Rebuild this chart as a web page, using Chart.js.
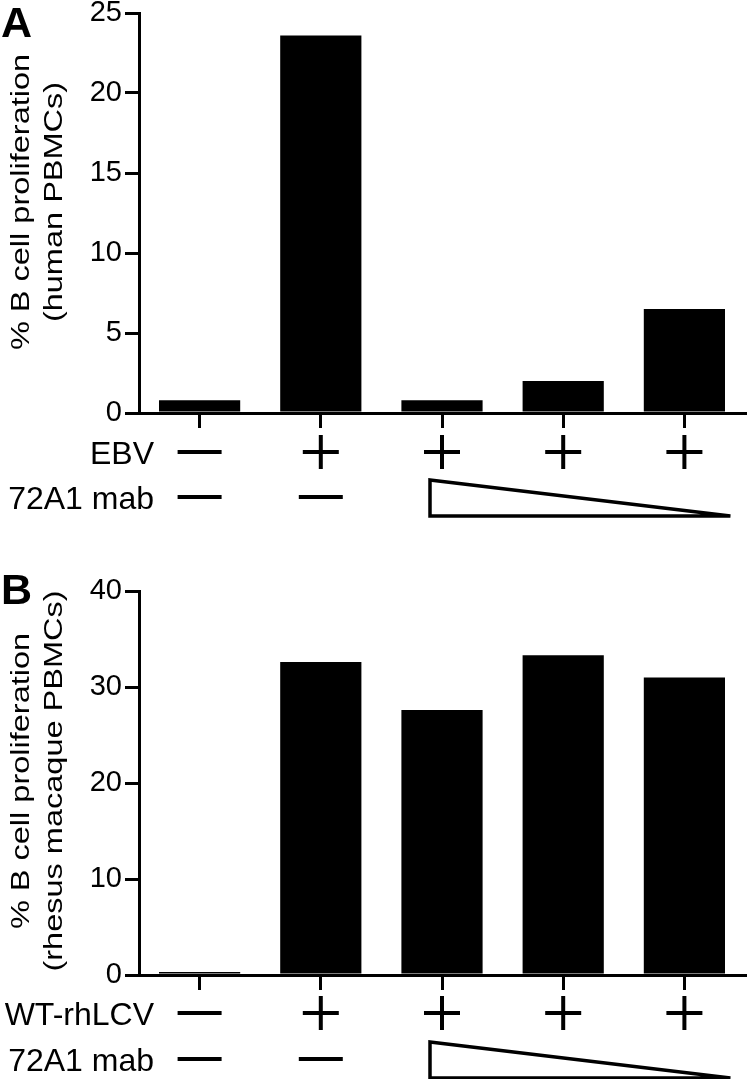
<!DOCTYPE html>
<html>
<head>
<meta charset="utf-8">
<script src="https://cdn.jsdelivr.net/npm/chart.js@4.4.1/dist/chart.umd.min.js"></script>
<style>
  html, body { margin: 0; padding: 0; background: #fff; }
  #wrap { position: relative; width: 750px; height: 1079px; }
  canvas { position: absolute; left: 0; }
  #chartA { top: 0; }
  #chartB { top: 540px; }
</style>
</head>
<body>
<div id="wrap">
  <canvas id="chartA" width="750" height="540"></canvas>
  <canvas id="chartB" width="750" height="539"></canvas>
</div>
<script>
// conditions, left to right
const categories = ['no virus', 'virus', 'virus + mab high', 'virus + mab mid', 'virus + mab low'];

// panel A: human PBMCs + EBV
const humanValues = [0.8, 23.6, 0.8, 2.0, 6.5];
const humanTicks = [0, 5, 10, 15, 20, 25];
// panel B: rhesus macaque PBMCs + WT-rhLCV
const rhesusValues = [0.3, 32.6, 27.6, 33.3, 31.0];
const rhesusTicks = [0, 10, 20, 30, 40];

// rows of +/- under the bars ('dose' = decreasing mab triangle)
const virusMarks = ['-', '+', '+', '+', '+'];
const mabMarks = ['-', '-', 'dose', 'dose', 'dose'];

const FONT = '"Liberation Sans", Arial, Helvetica, sans-serif';
Chart.defaults.font.family = FONT;
Chart.defaults.color = '#000';

function strokeLine(ctx, x0, y0, x1, y1) {
    ctx.beginPath();
    ctx.moveTo(x0, y0);
    ctx.lineTo(x1, y1);
    ctx.stroke();
}

// draws panel letter, y title and the condition rows under the x axis
const annotate = {
    id: 'annotate',
    afterDraw(chart, args, opts) {
        const ctx = chart.ctx;
        const xs = chart.scales.x;
        const bottom = chart.chartArea.bottom;
        ctx.save();
        ctx.fillStyle = '#000';
        ctx.strokeStyle = '#000';

        ctx.font = 'bold 43px ' + FONT;
        ctx.textAlign = 'left';
        ctx.textBaseline = 'alphabetic';
        ctx.fillText(opts.letter, 1, opts.letterY);

        // y title, the original is stretched along its length
        ctx.font = '25px ' + FONT;
        opts.yTitle.forEach((line, i) => {
            ctx.save();
            ctx.translate(29 + i * 33, opts.titleY);
            ctx.rotate(-Math.PI / 2);
            ctx.scale(1.3, 1);
            ctx.textAlign = 'center';
            ctx.fillText(line, 0, 0);
            ctx.restore();
        });

        const rowYs = [bottom + opts.rowGap[0], bottom + opts.rowGap[1]];
        ctx.font = '32px ' + FONT;
        ctx.textAlign = 'right';
        opts.rowLabels.forEach((lab, r) => ctx.fillText(lab, 154, rowYs[r] + 11.5));

        [virusMarks, mabMarks].forEach((marks, r) => {
            const y = rowYs[r];
            ctx.lineWidth = 4;
            ctx.lineCap = 'butt';
            marks.forEach((m, i) => {
                const cx = xs.getPixelForValue(i);
                if (m === '-') {
                    strokeLine(ctx, cx - 22, y, cx + 22, y);
                } else if (m === '+') {
                    strokeLine(ctx, cx - 18, y, cx + 18, y);
                    strokeLine(ctx, cx, y - 17, cx, y + 17);
                }
            });
            const dose = marks.map((m, i) => (m === 'dose' ? i : -1)).filter(i => i >= 0);
            if (dose.length) {
                const x0 = xs.getPixelForValue(dose[0]) - 12;
                const x1 = xs.getPixelForValue(dose[dose.length - 1]) + 46;
                ctx.lineWidth = 3.5;
                ctx.lineJoin = 'miter';
                ctx.beginPath();
                ctx.moveTo(x0, y - 17);
                ctx.lineTo(x1, y + 19);
                ctx.lineTo(x0, y + 19);
                ctx.closePath();
                ctx.stroke();
            }
        });
        ctx.restore();
    }
};

function makeChart(id, values, ticks, topPad, xHeight, extra) {
    const ctx = document.getElementById(id).getContext('2d');
    return new Chart(ctx, {
        type: 'bar',
        data: {
            labels: categories,
            datasets: [{
                data: values,
                backgroundColor: '#000',
                borderWidth: 0,
                barPercentage: 0.67,
                categoryPercentage: 1
            }]
        },
        options: {
            responsive: false,
            animation: false,
            devicePixelRatio: 1,
            layout: { padding: { left: 4, top: topPad, right: 5, bottom: 0 } },
            plugins: {
                legend: { display: false },
                tooltip: { enabled: false },
                annotate: extra
            },
            scales: {
                x: {
                    ticks: { display: false },
                    grid: {
                        display: true, drawOnChartArea: false, offset: false,
                        tickLength: 15, lineWidth: 3, color: '#000'
                    },
                    border: { color: '#000', width: 3 },
                    afterFit(scale) {
                        scale.height = xHeight;
                        scale.paddingLeft = 0;
                        scale.paddingRight = 0;
                    }
                },
                y: {
                    min: ticks[0],
                    max: ticks[ticks.length - 1],
                    afterBuildTicks(scale) {
                        scale.ticks = ticks.map(v => ({ value: v }));
                    },
                    ticks: { font: { size: 29 }, color: '#000', padding: 3 },
                    grid: {
                        display: true, drawOnChartArea: false,
                        tickLength: 14, lineWidth: 3, color: '#000'
                    },
                    border: { color: '#000', width: 3 },
                    afterFit(scale) {
                        scale.width = 135;
                        scale.paddingTop = 0;
                        scale.paddingBottom = 0;
                    }
                }
            }
        },
        plugins: [annotate]
    });
}

makeChart('chartA', humanValues, humanTicks, 13, 127, {
    letter: 'A', letterY: 37, titleY: 202,
    yTitle: ['% B cell proliferation', '(human PBMCs)'],
    rowLabels: ['EBV', '72A1 mab'], rowGap: [39, 84]
});

makeChart('chartB', rhesusValues, rhesusTicks, 51, 104, {
    letter: 'B', letterY: 64, titleY: 241,
    yTitle: ['% B cell proliferation', '(rhesus macaque PBMCs)'],
    rowLabels: ['WT-rhLCV', '72A1 mab'], rowGap: [38, 84]
});
</script>
</body>
</html>
